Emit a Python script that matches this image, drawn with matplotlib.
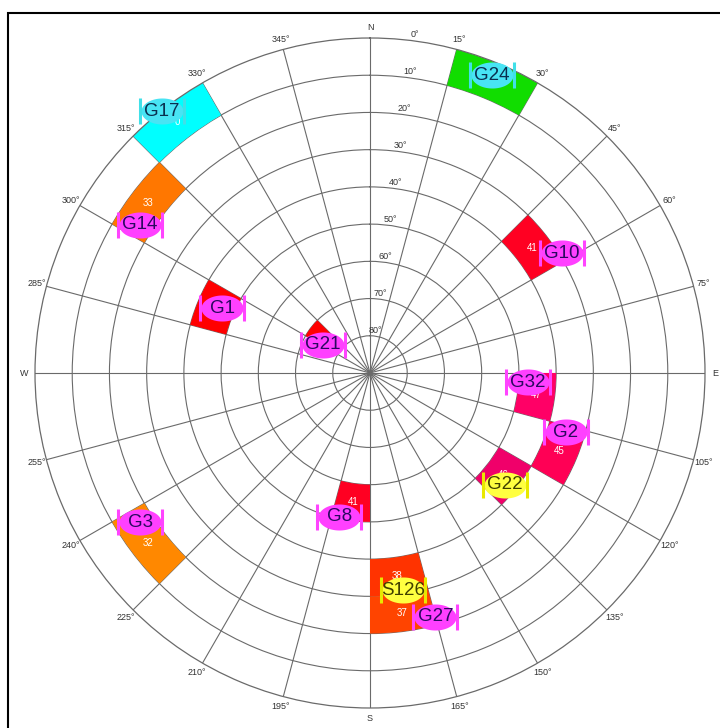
import numpy as np
import matplotlib
matplotlib.use("Agg")
import matplotlib.pyplot as plt
from matplotlib.path import Path
from matplotlib.patches import Rectangle
from matplotlib.transforms import ScaledTranslation

plt.rcParams['font.family'] = ['Liberation Sans', 'DejaVu Sans']

# SNR cells: start of azimuth bin (15 deg) and elevation bin (10 deg)
# None = value hidden under the satellite marker
cell_az = [315, 15, 300, 45, 285, 300, 90, 105, 120, 180, 165, 165, 225]
cell_el = [0, 0, 10, 30, 40, 70, 40, 30, 40, 50, 30, 20, 10]
cell_snr = [0, None, 33, 41, None, None, 47, 45, 46, 41, 38, 37, 32]
cell_color = ['#00FFFF', '#11DD00', '#FF7700', '#FF0022', '#FF0000', '#FF0000',
              '#FF0066', '#FF0055', '#F0006A', '#FF0022', '#FF3300', '#FF4400',
              '#FF8800']

# satellite positions
sat_names = ['G17', 'G24', 'G14', 'G10', 'G1', 'G21', 'G32', 'G2', 'G22',
             'G8', 'S126', 'G27', 'G3']
sat_az = [321.5, 22.3, 302.8, 58, 293.7, 300.8, 93.3, 106.8, 129.7,
          192.1, 171.4, 165, 237]
sat_el = [0.2, 3.5, 16.5, 29.2, 46.6, 75.3, 47.5, 35, 43, 50.5, 31, 22.2, 16.4]
sat_kind = ['cyan', 'cyan', 'mag', 'mag', 'mag', 'mag', 'mag', 'mag', 'yel',
            'mag', 'yel', 'mag', 'mag']

kind_fill = {'mag': '#FF40FF', 'cyan': '#48E4F4', 'yel': '#FFFF40'}
kind_bar = {'mag': '#FF44FF', 'cyan': '#40E0E8', 'yel': '#E8E800'}
kind_text = {'mag': '#2A0860', 'cyan': '#0A3050', 'yel': '#404000'}

az_ticks = list(range(0, 360, 15))
el_rings = [0, 10, 20, 30, 40, 50, 60, 70, 80]
compass = {0: 'N', 90: 'E', 180: 'S', 270: 'W'}

fig = plt.figure(figsize=(7.2, 7.28), dpi=100)
ax = fig.add_axes([35 / 720, 20 / 728, 670 / 720, 670 / 728], projection='polar')
ax.set_theta_zero_location('N')
ax.set_theta_direction(-1)
ax.set_ylim(0, 90)

gridc = '#6A6A6A'
ax.set_xticks(np.radians(az_ticks))
ax.set_yticks([90 - e for e in el_rings[1:]])
ax.set_xticklabels([])
ax.set_yticklabels([])
ax.grid(True, color=gridc, linewidth=0.8)
ax.spines['polar'].set_color(gridc)
ax.spines['polar'].set_linewidth(0.9)

# azimuth labels
for a in az_ticks:
    lab = compass.get(a, f'{a}°')
    ax.text(np.radians(a), 92.8, lab, ha='center', va='center',
            fontsize=6.5, color='#333333')

# elevation labels
for e in el_rings:
    ax.text(np.radians(7.5), 90 - e + 1.6, f'{e}°', ha='center', va='center',
            fontsize=6.5, color='#333333')

# SNR cells
for a, e, s, c in zip(cell_az, cell_el, cell_snr, cell_color):
    ax.bar(np.radians(a + 7.5), 10, width=np.radians(15), bottom=80 - e,
           color=c, edgecolor='none', zorder=2)
    if s is not None:
        ax.text(np.radians(a + 7.5), 85 - e, str(s), ha='center', va='center',
                fontsize=7, color='white', zorder=3)

# ellipse marker
t = np.linspace(0, 2 * np.pi, 72)
ell = Path(np.column_stack([np.cos(t), 0.62 * np.sin(t)]), closed=True)

px = 72 / 100  # points per pixel
left = ax.transData + ScaledTranslation(-0.22, 0, fig.dpi_scale_trans)
right = ax.transData + ScaledTranslation(0.22, 0, fig.dpi_scale_trans)

for n, a, e, k in zip(sat_names, sat_az, sat_el, sat_kind):
    th, r = np.radians(a), 90 - e
    ax.plot([th], [r], marker='_', ms=44 * px, mew=1.6, color=kind_bar[k],
            zorder=4, clip_on=False)
    ax.plot([th], [r], marker=ell, ms=42 * px, mew=0, color=kind_fill[k],
            zorder=5, clip_on=False)
    for tr in (left, right):
        ax.plot([th], [r], marker='|', ms=26 * px, mew=2.2, color=kind_bar[k],
                transform=tr, zorder=5, clip_on=False)
    ax.text(th, r, n, ha='center', va='center', fontsize=13.5,
            color=kind_text[k], zorder=6)

# outer frame
fig.add_artist(Rectangle((8 / 720, -0.05), 1.1, 1 - 13 / 728 + 0.05,
                         transform=fig.transFigure, fill=False,
                         edgecolor='black', linewidth=1.5))

fig.savefig('out.png', dpi=100)
